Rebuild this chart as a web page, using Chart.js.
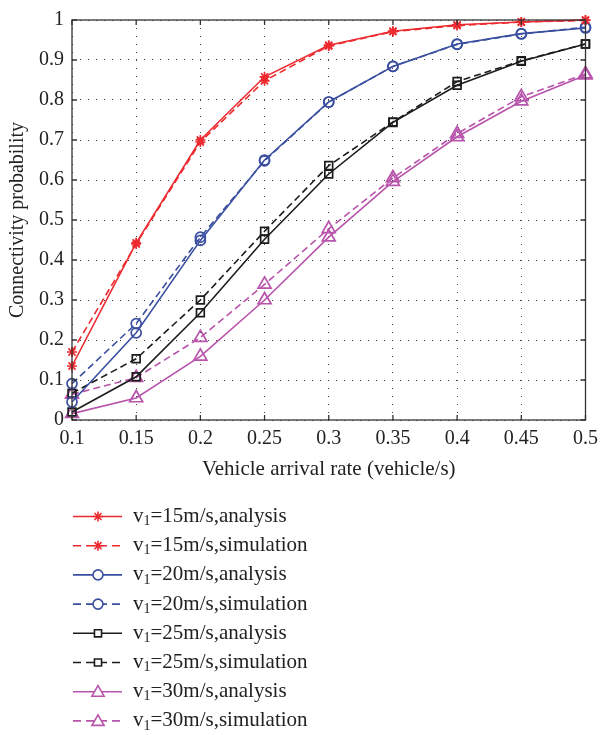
<!DOCTYPE html>
<html>
<head>
<meta charset="utf-8">
<script src="https://cdn.jsdelivr.net/npm/chart.js@4/dist/chart.umd.min.js"></script>
<style>
  html, body { margin: 0; padding: 0; background: #fff; }
  #wrap { width: 605px; height: 735px; }
</style>
</head>
<body>
<div id="wrap"><canvas id="chart"></canvas></div>
<script>
/* ---------- data ---------- */
const arrivalRates = [0.1, 0.15, 0.2, 0.25, 0.3, 0.35, 0.4, 0.45, 0.5];
const xTickLabels  = ["0.1", "0.15", "0.2", "0.25", "0.3", "0.35", "0.4", "0.45", "0.5"];
const yTickValues  = [0, 0.1, 0.2, 0.3, 0.4, 0.5, 0.6, 0.7, 0.8, 0.9, 1];
const yTickLabels  = ["0", "0.1", "0.2", "0.3", "0.4", "0.5", "0.6", "0.7", "0.8", "0.9", "1"];

const v15Analysis   = [0.135, 0.443, 0.700, 0.858, 0.937, 0.972, 0.988, 0.995, 1.000];
const v15Simulation = [0.170, 0.440, 0.695, 0.848, 0.935, 0.971, 0.986, 0.995, 0.999];
const v20Analysis   = [0.045, 0.218, 0.449, 0.650, 0.795, 0.884, 0.940, 0.966, 0.980];
const v20Simulation = [0.091, 0.241, 0.457, 0.648, 0.795, 0.884, 0.939, 0.965, 0.982];
const v25Analysis   = [0.020, 0.108, 0.268, 0.452, 0.615, 0.744, 0.837, 0.897, 0.940];
const v25Simulation = [0.067, 0.153, 0.300, 0.472, 0.636, 0.745, 0.846, 0.898, 0.940];
const v30Analysis   = [0.016, 0.055, 0.159, 0.300, 0.457, 0.596, 0.708, 0.797, 0.862];
const v30Simulation = [0.064, 0.106, 0.206, 0.339, 0.478, 0.605, 0.716, 0.808, 0.865];

const speeds = ["15", "20", "25", "30"];

/* ---------- styling ---------- */
const RED = "#ec2a2f", BLUE = "#3a4fa0", BLACK = "#1c1c1c", MAG = "#b854ab";
const SERIF = "'Liberation Serif', 'Times New Roman', serif";
const DASH = [7, 4];

Chart.defaults.font.family = SERIF;
Chart.defaults.font.size = 20;
Chart.defaults.color = "#222";

function pts(arr) {
  return arrivalRates.map((x, i) => ({ x: x, y: arr[i] }));
}

function series(label, arr, color, style, radius, dashed) {
  return {
    label: label,
    data: pts(arr),
    borderColor: color,
    backgroundColor: "transparent",
    borderWidth: 1.6,
    borderDash: dashed ? DASH : [],
    pointStyle: style,
    pointRadius: radius,
    pointBorderWidth: 1.7,
    pointBorderColor: color,
    pointBackgroundColor: "transparent",
    tension: 0,
    clip: false
  };
}

const datasets = [
  series(speeds[0] + "m/s,analysis",   v15Analysis,   RED,   "star",     5,   false),
  series(speeds[0] + "m/s,simulation", v15Simulation, RED,   "star",     5,   true),
  series(speeds[1] + "m/s,analysis",   v20Analysis,   BLUE,  "circle",   5,   false),
  series(speeds[1] + "m/s,simulation", v20Simulation, BLUE,  "circle",   5,   true),
  series(speeds[2] + "m/s,analysis",   v25Analysis,   BLACK, "rect",     5.5, false),
  series(speeds[2] + "m/s,simulation", v25Simulation, BLACK, "rect",     5.5, true),
  series(speeds[3] + "m/s,analysis",   v30Analysis,   MAG,   "triangle", 7.5, false),
  series(speeds[3] + "m/s,simulation", v30Simulation, MAG,   "triangle", 7.5, true)
];

/* ---------- frame with inward ticks ---------- */
const framePlugin = {
  id: "frame",
  afterDatasetsDraw(chart) {
    const { ctx, chartArea: a, scales } = chart;
    ctx.save();
    ctx.strokeStyle = "#333";
    ctx.lineWidth = 1.3;
    ctx.setLineDash([]);
    ctx.strokeRect(a.left, a.top, a.right - a.left, a.bottom - a.top);
    ctx.beginPath();
    arrivalRates.forEach(v => {
      const x = scales.x.getPixelForValue(v);
      ctx.moveTo(x, a.bottom); ctx.lineTo(x, a.bottom - 5);
      ctx.moveTo(x, a.top);    ctx.lineTo(x, a.top + 5);
    });
    yTickValues.forEach(v => {
      const y = scales.y.getPixelForValue(v);
      ctx.moveTo(a.left, y);  ctx.lineTo(a.left + 5, y);
      ctx.moveTo(a.right, y); ctx.lineTo(a.right - 5, y);
    });
    ctx.stroke();
    ctx.restore();
  }
};

/* ---------- legend below the plot ---------- */
const legendRadius = { star: 5, circle: 5, rect: 5, triangle: 7 };

const legendPlugin = {
  id: "belowLegend",
  afterDraw(chart) {
    const ctx = chart.ctx;
    const x0 = 73, x1 = 122, xm = 98, tx = 133;
    const top = 516.5, step = 29.2;
    ctx.save();
    chart.data.datasets.forEach((ds, i) => {
      const y = top + i * step;
      ctx.strokeStyle = ds.borderColor;
      ctx.lineWidth = 1.6;
      ctx.setLineDash(ds.borderDash.length ? [8, 5] : []);
      ctx.beginPath();
      ctx.moveTo(x0, y); ctx.lineTo(x1, y);
      ctx.stroke();
      ctx.setLineDash([]);
      ctx.fillStyle = "#fff";
      Chart.helpers.drawPoint(ctx, {
        pointStyle: ds.pointStyle,
        radius: legendRadius[ds.pointStyle],
        rotation: 0,
        borderWidth: 1.7
      }, xm, ds.pointStyle === "triangle" ? y + 1 : y);

      ctx.fillStyle = "#222";
      ctx.textBaseline = "middle";
      ctx.textAlign = "left";
      ctx.font = "21px " + SERIF;
      ctx.fillText("v", tx, y);
      let x = tx + ctx.measureText("v").width;
      ctx.font = "14px " + SERIF;
      ctx.fillText("1", x, y + 5);
      x += ctx.measureText("1").width;
      ctx.font = "21px " + SERIF;
      ctx.fillText("=" + ds.label, x, y);
    });
    ctx.restore();
  }
};

new Chart(document.getElementById("chart"), {
  type: "line",
  data: { datasets: datasets },
  options: {
    responsive: true,
    maintainAspectRatio: false,
    animation: false,
    layout: { padding: { top: 12, right: 13, left: 0, bottom: 253 } },
    plugins: { legend: { display: false }, tooltip: { enabled: false } },
    scales: {
      x: {
        type: "linear",
        min: 0.1,
        max: 0.5,
        afterBuildTicks: s => { s.ticks = arrivalRates.map(v => ({ value: v })); },
        afterFit: s => { s.height = 62; },
        ticks: {
          padding: 7,
          maxRotation: 0,
          autoSkip: false,
          color: "#222",
          callback: (v, i) => xTickLabels[i]
        },
        grid: { color: "#444", lineWidth: 1, drawTicks: false },
        border: { display: false, dash: [1, 7] },
        title: {
          display: true,
          text: "Vehicle arrival rate (vehicle/s)",
          color: "#222",
          font: { size: 21 },
          padding: { top: 0, bottom: 0 }
        }
      },
      y: {
        min: 0,
        max: 1,
        afterBuildTicks: s => { s.ticks = yTickValues.map(v => ({ value: v })); },
        afterFit: s => { s.width = 72; },
        ticks: {
          padding: 8,
          autoSkip: false,
          color: "#222",
          callback: (v, i) => yTickLabels[i]
        },
        grid: { color: "#444", lineWidth: 1, drawTicks: false },
        border: { display: false, dash: [1, 7] },
        title: {
          display: true,
          text: "Connectivity probability",
          color: "#222",
          font: { size: 20 },
          padding: { top: 6, bottom: 0 }
        }
      }
    }
  },
  plugins: [framePlugin, legendPlugin]
});
</script>
</body>
</html>
